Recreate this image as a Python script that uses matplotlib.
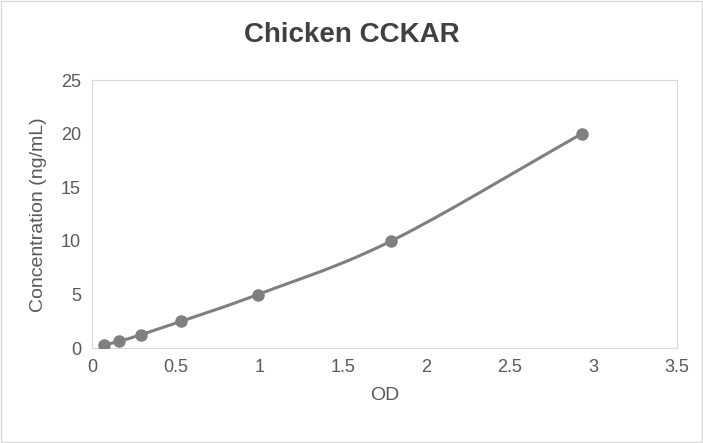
import numpy as np
import matplotlib
matplotlib.use("Agg")
import matplotlib.pyplot as plt
from matplotlib.patches import Rectangle

od = [0.07, 0.16, 0.29, 0.53, 0.99, 1.79, 2.93]
conc = [0.3125, 0.625, 1.25, 2.5, 5, 10, 20]
x_ticks = [0, 0.5, 1, 1.5, 2, 2.5, 3, 3.5]
x_labels = ["0", "0.5", "1", "1.5", "2", "2.5", "3", "3.5"]
y_ticks = [0, 5, 10, 15, 20, 25]

def catmull(x, y, n=30):
    x = np.asarray(x, float); y = np.asarray(y, float)
    P = np.column_stack([x, y])
    P = np.vstack([P[0] - (P[1] - P[0]), P, P[-1] + (P[-1] - P[-2])])
    out = []
    t = np.linspace(0, 1, n)[:, None]
    for i in range(1, len(P) - 2):
        p0, p1, p2, p3 = P[i-1], P[i], P[i+1], P[i+2]
        seg = 0.5 * ((2*p1) + (-p0 + p2)*t + (2*p0 - 5*p1 + 4*p2 - p3)*t**2 + (-p0 + 3*p1 - 3*p2 + p3)*t**3)
        out.append(seg)
    s = np.vstack(out)
    return s[:, 0], s[:, 1]

plt.rcParams['font.family'] = ['Liberation Sans', 'DejaVu Sans']
fig = plt.figure(figsize=(7.03, 4.43), dpi=100)
ax = fig.add_axes([0.131, 0.214, 0.832, 0.605])
c = '#7f7f7f'
sx, sy = catmull(od, conc)
ax.plot(sx, sy, color=c, lw=2.2, zorder=2)
ax.plot(od, conc, 'o', color=c, ms=8, zorder=3)
ax.set_xlim(0, 3.5); ax.set_ylim(0, 25)
ax.set_xticks(x_ticks); ax.set_xticklabels(x_labels)
ax.set_yticks(y_ticks)
ax.tick_params(length=0, labelsize=13, colors='#595959', pad=8)
for s in ax.spines.values():
    s.set_color('#d9d9d9')
ax.set_xlabel('OD', fontsize=14, color='#595959', labelpad=8)
ax.set_ylabel('Concentration (ng/mL)', fontsize=14, color='#595959', labelpad=10)
fig.text(0.5, 0.92, 'Chicken CCKAR', ha='center', va='center', fontsize=20, fontweight='bold', color='#404040')
fig.patches.append(Rectangle((0.001, 0.002), 0.997, 0.995, transform=fig.transFigure, fill=False, edgecolor='#d9d9d9', lw=1))
fig.savefig('out.png', dpi=100)
